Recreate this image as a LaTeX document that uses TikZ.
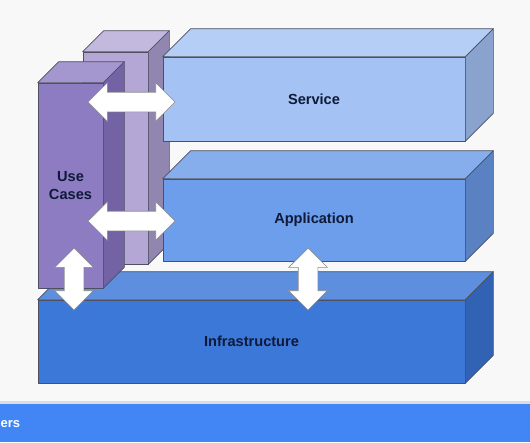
\documentclass[tikz,border=0pt]{standalone}
\usepackage{fontspec}
\setmainfont{Liberation Sans}
\usetikzlibrary{shapes.arrows}

\definecolor{bg}{HTML}{F8F8F8}
\definecolor{edgegray}{HTML}{4E5060}
\definecolor{arrowgray}{HTML}{8A8A8A}
\definecolor{txt}{HTML}{0E1A38}
\definecolor{barblue}{HTML}{4285F4}
\definecolor{shadowgray}{HTML}{D9DCE2}
\definecolor{svcfront}{HTML}{A4C2F4}
\definecolor{svctop}{HTML}{B5CEF5}
\definecolor{svcside}{HTML}{8AA3CE}
\definecolor{appfront}{HTML}{6D9EEB}
\definecolor{apptop}{HTML}{86AEEC}
\definecolor{appside}{HTML}{5A82C2}
\definecolor{infrafront}{HTML}{3C78D8}
\definecolor{infratop}{HTML}{5D8FDE}
\definecolor{infraside}{HTML}{3162B4}
\definecolor{ucfront}{HTML}{8E7CC3}
\definecolor{uctop}{HTML}{A497D0}
\definecolor{ucside}{HTML}{7363A4}
\definecolor{colfront}{HTML}{B4A7D6}
\definecolor{coltop}{HTML}{C3B9DF}
\definecolor{colside}{HTML}{9086B0}

% top and side faces of a block: node, depth, top colour, side colour
\newcommand\blockfaces[4]{%
  \draw[face, fill=#3] (#1.north west) -- ++(#2,-#2) -- ([shift={(#2,-#2)}]#1.north east) -- (#1.north east) -- cycle;
  \draw[face, fill=#4] (#1.north east) -- ++(#2,-#2) -- ([shift={(#2,-#2)}]#1.south east) -- (#1.south east) -- cycle;}

\begin{document}
\begin{tikzpicture}[x=1pt, y=-1pt,
		face/.style={draw=edgegray, line width=0.7pt, line join=round},
		front/.style={face, rectangle, inner sep=0pt, text=txt, align=center,
			font=\fontsize{14.6}{18}\selectfont\bfseries},
		dbl/.style={double arrow, draw=arrowgray, fill=white, line width=0.7pt,
			inner xsep=0pt, inner ysep=9.5pt, minimum width=38pt,
			double arrow head extend=9.5pt, double arrow tip angle=90}
		]
	\fill[bg] (0,0) rectangle (530,442);
	\useasboundingbox (0,0) rectangle (530,442);

	% layers
	\node [front, fill=infrafront, minimum width=427pt, minimum height=83pt] (infra) at (251.5,341.5) {Infrastructure};
	\blockfaces{infra}{28}{infratop}{infraside}
	\node [front, fill=colfront, minimum width=65pt, minimum height=212pt] (col) at (115.5,158) {};
	\blockfaces{col}{21}{coltop}{colside}
	\node [front, fill=svcfront, minimum width=302pt, minimum height=84pt] (svc) at (314,99) {Service};
	\blockfaces{svc}{28}{svctop}{svcside}
	\node [front, fill=appfront, minimum width=302pt, minimum height=82pt] (app) at (314,220) {Application};
	\blockfaces{app}{28}{apptop}{appside}
	\node [front, fill=ucfront, minimum width=65pt, minimum height=205pt] (uc) at (70.5,185.5) {Use\\Cases};
	\blockfaces{uc}{21}{uctop}{ucside}

	% arrows
	\node [dbl, minimum height=87pt] (a1) at (131.5,102) {};
	\node [dbl, minimum height=87pt] (a2) at (131.5,221) {};
	\node [dbl, minimum height=62pt, rotate=90] (a3) at (74,279) {};
	\node [dbl, minimum height=62pt, rotate=90] (a4) at (308,279) {};

	% bottom bar
	\fill[shadowgray] (0,401) rectangle (530,403.5);
	\fill[barblue] (0,403.5) rectangle (530,442);
	\node [anchor=base west, inner sep=0pt, text=white, font=\fontsize{13}{16}\selectfont\bfseries] (bar) at (0.5,427.5) {ers};
\end{tikzpicture}
\end{document}
